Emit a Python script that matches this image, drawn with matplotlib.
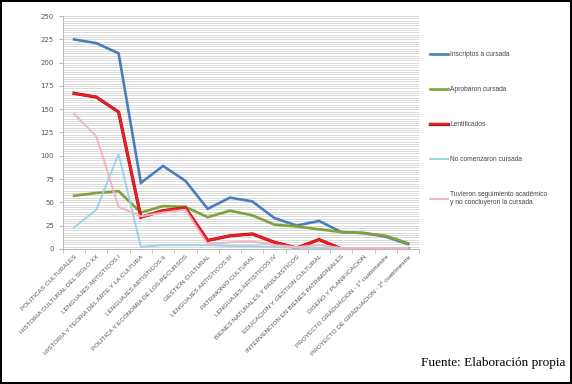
import numpy as np
import matplotlib.pyplot as plt
import matplotlib.patheffects as pe
from matplotlib.ticker import MultipleLocator

# materias (eje x)
materias = [
    'POLITICAS CULTURALES',
    'HISTORIA CULTURAL DEL SIGLO XX',
    'LENGUAJES ARTISTICOS I',
    'HISTORIA Y TEORIA DEL ARTE Y LA CULTURA',
    'LENGUAJES ARTISTICOS II',
    'POLITICA Y ECONOMIA DE LOS RECURSOS',
    'GESTION CULTURAL',
    'LENGUAJES ARTISTICOS III',
    'PATRIMONIO CULTURAL',
    'LENGUAJES ARTISTICOS IV',
    'BIENES NATURALES Y PAISAJISTICOS',
    'EDUCACION Y GESTION CULTURAL',
    'INTERVENCION EN BIENES PATRIMONIALES',
    'DISEÑO Y PLANIFICACION',
    'PROYECTO GRADUACION - 1º cuatrimestre',
    'PROYECTO DE GRADUACION - 2º cuatrimestre',
]

inscriptos = [225, 221, 210, 71, 89, 73, 43, 55, 51, 33, 25, 30, 18, 17, 13, 5]
aprobaron = [57, 60, 62, 39, 46, 45, 34, 41, 36, 26, 24, 21, 18, 17, 14, 6]
lentificados = [167, 163, 147, 34, 41, 44, 9, 14, 16, 7, 1, 10, 0, 0, 0, 0]
no_comenzaron = [23, 42, 102, 2, 4, 4, 4, 3, 3, 2, 1, 1, 0, 0, 0, 0]
seguimiento = [145, 121, 45, 35, 39, 42, 5, 7, 8, 4, 2, 4, 1, 1, 1, 1]

series = [
    (inscriptos, 'Inscriptos a cursada', '#4A7EBB', 1.9),
    (aprobaron, 'Aprobaron cursada', '#7FA33A', 1.9),
    (lentificados, 'Lentificados', '#EE1C24', 1.7),
    (no_comenzaron, 'No comenzaron cursada', '#9DD3E6', 1.4),
    (seguimiento, 'Tuvieron seguimiento académico\ny no concluyeron la cursada', '#F4B3BE', 1.4),
]

fig = plt.figure(figsize=(5.72, 3.84), dpi=100)
fig.patch.set_edgecolor('black')
fig.patch.set_linewidth(1.5)
ax = fig.add_axes([0.110, 0.352, 0.623, 0.606])

x = np.arange(len(materias))
for vals, name, col, lw in series:
    line, = ax.plot(x, vals, color=col, lw=lw, label=name, solid_joinstyle='miter')
    if name == 'Lentificados':
        line.set_path_effects([pe.Stroke(linewidth=2.3, foreground='#9A1016'), pe.Normal()])

ax.set_xlim(-0.5, len(materias) - 0.5)
ax.set_ylim(0, 250)
ax.yaxis.set_major_locator(MultipleLocator(25))
ax.yaxis.set_minor_locator(MultipleLocator(2.5))
ax.grid(axis='y', which='both', color='#D4D4D4', lw=0.6)
ax.set_axisbelow(True)
for s in ['top', 'right']:
    ax.spines[s].set_visible(False)
ax.spines['left'].set_color('#BBBBBB')
ax.spines['bottom'].set_color('#BBBBBB')

ax.set_xticks(x)
ax.set_xticklabels(materias, rotation=45, ha='right', rotation_mode='anchor',
                   fontsize=4.6, color='#555555', family='Liberation Sans')
ax.set_xticks(np.arange(-0.5, len(materias), 1), minor=True)
ax.tick_params(axis='x', which='major', length=0, pad=4)
ax.tick_params(axis='x', which='minor', length=3, color='#BBBBBB')
ax.tick_params(axis='y', which='major', labelsize=5, labelcolor='#555555', length=3, color='#BBBBBB')
ax.tick_params(axis='y', which='minor', length=0)

leg = ax.legend(loc='upper left', bbox_to_anchor=(0.742, 0.883), bbox_transform=fig.transFigure,
                frameon=False, labelspacing=4.2, handlelength=2.6, handletextpad=0.4,
                prop={'family': 'Liberation Sans', 'size': 4.8})
for t in leg.get_texts():
    t.set_color('#444444')

fig.text(0.988, 0.038, 'Fuente: Elaboración propia', ha='right', va='bottom',
         fontsize=9.5, family='Liberation Serif')

fig.savefig('out.png', dpi=100)
